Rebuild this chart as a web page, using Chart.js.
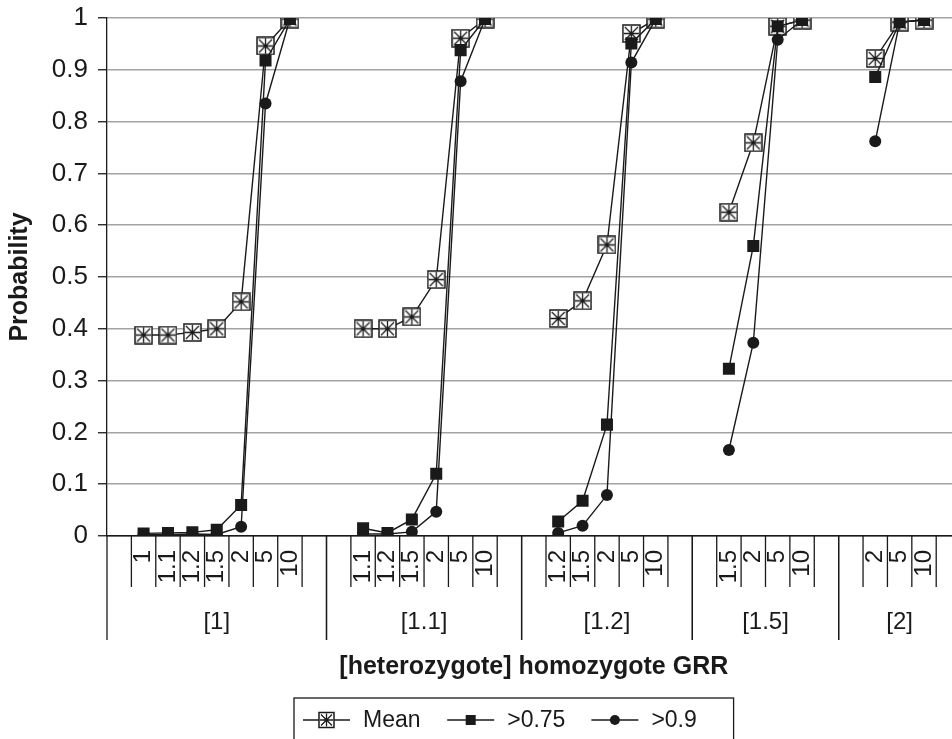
<!DOCTYPE html>
<html>
<head>
<meta charset="utf-8">
<script src="https://cdn.jsdelivr.net/npm/chart.js@4.4.1/dist/chart.umd.min.js"></script>
<style>
  html, body { margin: 0; padding: 0; background: #fff; overflow: hidden; }
  #chart { display: block; }
</style>
</head>
<body>
<canvas id="chart" width="971" height="739" style="width:971px;height:739px"></canvas>
<script>
// heterozygote GRR groups and the homozygote GRR values inside each group
const groupNames = ['[1]', '[1.1]', '[1.2]', '[1.5]', '[2]']
const grrLabels = [
  ['1', '1.1', '1.2', '1.5', '2', '5', '10'],
  ['1.1', '1.2', '1.5', '2', '5', '10'],
  ['1.2', '1.5', '2', '5', '10'],
  ['1.5', '2', '5', '10'],
  ['2', '5', '10']
]
const meanValues = [
  [0.388, 0.388, 0.393, 0.400, 0.452, 0.946, 0.998],
  [0.400, 0.400, 0.423, 0.495, 0.961, 0.998],
  [0.420, 0.454, 0.562, 0.970, 0.998],
  [0.625, 0.759, 0.984, 0.996],
  [0.922, 0.992, 0.996]
]
const p75Values = [
  [0.005, 0.006, 0.007, 0.012, 0.060, 0.918, 0.998],
  [0.015, 0.006, 0.032, 0.120, 0.938, 0.998],
  [0.028, 0.068, 0.215, 0.951, 0.998],
  [0.323, 0.560, 0.984, 0.996],
  [0.886, 0.992, 0.996]
]
const p90Values = [
  [0.003, 0.003, 0.004, 0.003, 0.018, 0.835, 0.998],
  [0.004, 0.004, 0.008, 0.047, 0.878, 0.998],
  [0.006, 0.020, 0.079, 0.914, 0.998],
  [0.166, 0.373, 0.958, 0.996],
  [0.762, 0.992, 0.996]
]
const seriesNames = ['Mean', '>0.75', '>0.9']
const yTicks = [0, 0.1, 0.2, 0.3, 0.4, 0.5, 0.6, 0.7, 0.8, 0.9, 1]

const FONT = '"Liberation Sans", Arial, sans-serif'
const INK = '#1a1a1a'

// each group gets an empty slot before and after it, like the original sheet
function flatLabels(){
  let out = []
  grrLabels.forEach(g => { out.push(''); g.forEach(l => out.push(l)); out.push('') })
  return out
}
function flatValues(groups){
  let out = []
  groups.forEach(g => { out.push(null); g.forEach(v => out.push(v)); out.push(null) })
  return out
}

function drawMeanMarker(g, cx, cy, size){
  const h = size / 2
  g.fillStyle = '#fff'
  g.fillRect(cx - h, cy - h, size, size)
  g.strokeStyle = INK
  g.lineWidth = 1.5
  g.strokeRect(cx - h, cy - h, size, size)
  g.lineWidth = 1.3
  g.beginPath()
  g.moveTo(cx - h + 2, cy - h + 2); g.lineTo(cx + h - 2, cy + h - 2)
  g.moveTo(cx + h - 2, cy - h + 2); g.lineTo(cx - h + 2, cy + h - 2)
  g.moveTo(cx, cy - h + 1); g.lineTo(cx, cy + h - 1)
  g.moveTo(cx - h + 1, cy); g.lineTo(cx + h - 1, cy)
  g.stroke()
}
function meanPointImage(size){
  const c = document.createElement('canvas')
  c.width = size + 2
  c.height = size + 2
  drawMeanMarker(c.getContext('2d'), (size + 2) / 2, (size + 2) / 2, size)
  return c
}

// second level of the category axis : tick separators + group names
const groupAxis = {
  id: 'groupAxis',
  afterDraw(chart){
    const x = chart.scales.x
    const ctx = chart.ctx
    const top = chart.chartArea.bottom
    const half = (x.getPixelForValue(1) - x.getPixelForValue(0)) / 2
    ctx.save()
    ctx.strokeStyle = INK
    ctx.lineWidth = 1.3
    ctx.fillStyle = INK
    ctx.font = '24px ' + FONT
    ctx.textAlign = 'center'
    ctx.textBaseline = 'middle'
    let start = 0
    groupNames.forEach((name, gi) => {
      const n = grrLabels[gi].length + 2
      for (let i = 0; i <= n; i++){
        const px = x.getPixelForValue(start + i) - half
        const edge = (i === 0 || i === n)
        ctx.beginPath()
        ctx.moveTo(px, top)
        ctx.lineTo(px, top + (edge ? 104 : 51))
        ctx.stroke()
      }
      const mid = (x.getPixelForValue(start) + x.getPixelForValue(start + n - 1)) / 2
      ctx.fillText(name, mid, top + 86)
      start += n
    })
    ctx.restore()
  }
}

// boxed legend with line + marker samples, equal slots like Excel
const boxLegend = {
  id: 'boxLegend',
  afterDraw(chart){
    const ctx = chart.ctx
    const top = chart.height - 41
    const left = 294
    const cy = top + 22
    ctx.save()
    ctx.font = '23px ' + FONT
    ctx.textBaseline = 'middle'
    ctx.textAlign = 'left'
    const slot = Math.max(...seriesNames.map(n => ctx.measureText(n).width)) + 86
    let cur = left + 9
    seriesNames.forEach((name, i) => {
      ctx.strokeStyle = INK
      ctx.lineWidth = 1.3
      ctx.beginPath(); ctx.moveTo(cur, cy); ctx.lineTo(cur + 47, cy); ctx.stroke()
      const mx = cur + 23.5
      ctx.fillStyle = INK
      if (i === 0) drawMeanMarker(ctx, mx, cy, 15)
      else if (i === 1) ctx.fillRect(mx - 5, cy - 5, 10, 10)
      else { ctx.beginPath(); ctx.arc(mx, cy, 5, 0, Math.PI * 2); ctx.fill() }
      ctx.fillStyle = INK
      ctx.fillText(name, cur + 60, cy + 1)
      cur += slot
    })
    ctx.strokeStyle = INK
    ctx.lineWidth = 1.3
    ctx.strokeRect(left, top, cur - 2 - left, 60)
    ctx.restore()
  }
}

const labels = flatLabels()
const lineBase = {
  borderColor: INK,
  borderWidth: 1.4,
  tension: 0,
  spanGaps: false
}

const config = {
  type: 'line',
  data: {
    labels: labels,
    datasets: [
      Object.assign({}, lineBase, {
        label: seriesNames[0],
        data: flatValues(meanValues),
        pointStyle: meanPointImage(17),
        pointRadius: 9,
        order: 3
      }),
      Object.assign({}, lineBase, {
        label: seriesNames[1],
        data: flatValues(p75Values),
        pointStyle: 'rect',
        pointRadius: 8.5,
        pointBackgroundColor: INK,
        pointBorderWidth: 0,
        order: 2
      }),
      Object.assign({}, lineBase, {
        label: seriesNames[2],
        data: flatValues(p90Values),
        pointStyle: 'circle',
        pointRadius: 6,
        pointBackgroundColor: INK,
        pointBorderWidth: 0,
        order: 1
      })
    ]
  },
  options: {
    responsive: false,
    animation: false,
    layout: { padding: { top: 18, right: 0, bottom: 49, left: 0 } },
    plugins: {
      legend: { display: false },
      tooltip: { enabled: false }
    },
    scales: {
      x: {
        type: 'category',
        offset: true,
        afterFit(scale){
          scale.height = 154
          scale.paddingLeft = 0
          scale.paddingRight = 0
        },
        grid: { display: false },
        border: { color: INK, width: 1.3 },
        ticks: {
          autoSkip: false,
          minRotation: 90,
          maxRotation: 90,
          padding: 6,
          color: INK,
          font: { family: FONT, size: 24 }
        },
        title: {
          display: true,
          text: '[heterozygote] homozygote GRR',
          color: INK,
          font: { family: FONT, size: 25, weight: 'bold' },
          padding: { top: 40, bottom: 8 }
        }
      },
      y: {
        min: 0,
        max: 1,
        afterFit(scale){
          scale.width = 107
          scale.paddingTop = 0
          scale.paddingBottom = 0
        },
        afterBuildTicks(scale){ scale.ticks = yTicks.map(v => ({ value: v })) },
        grid: {
          color: c => (c.tick && c.tick.value === 0) ? INK : '#a3a3a3',
          lineWidth: 1.5,
          tickLength: 9,
          tickColor: INK,
          tickWidth: 1.3
        },
        border: { color: INK, width: 1.3 },
        ticks: {
          padding: 10,
          color: INK,
          font: { family: FONT, size: 26 },
          callback: v => String(Math.round(v * 10) / 10)
        },
        title: {
          display: true,
          text: 'Probability',
          color: INK,
          font: { family: FONT, size: 25, weight: 'bold' },
          padding: { top: 5, bottom: 0 }
        }
      }
    }
  },
  plugins: [groupAxis, boxLegend]
}

new Chart(document.getElementById('chart').getContext('2d'), config)
</script>
</body>
</html>
